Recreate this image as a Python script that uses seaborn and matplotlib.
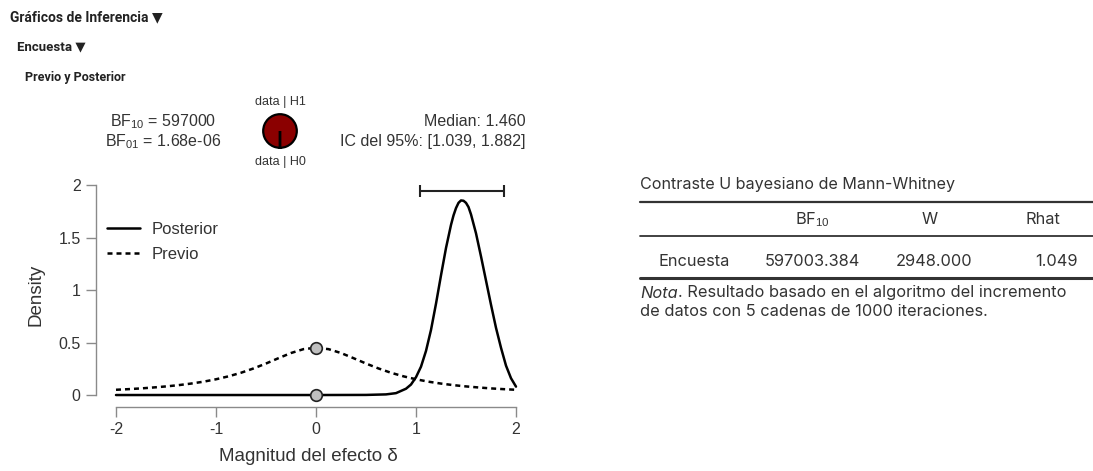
import matplotlib
matplotlib.use("Agg")
import matplotlib.pyplot as plt
import seaborn as sns
import numpy as np
import pandas as pd

# datos
prior_x = [-2, -1.875, -1.75, -1.625, -1.5, -1.375, -1.25, -1.125, -1, -0.875, -0.75, -0.625, -0.5,
           -0.375, -0.25, -0.125, 0, 0.125, 0.25, 0.375, 0.5, 0.625, 0.75, 0.875, 1, 1.125, 1.25,
           1.375, 1.5, 1.625, 1.75, 1.875, 2]
prior_y = [0.050, 0.056, 0.063, 0.072, 0.082, 0.094, 0.109, 0.127, 0.150, 0.178, 0.212, 0.253, 0.300,
           0.351, 0.400, 0.437, 0.450, 0.437, 0.400, 0.351, 0.300, 0.253, 0.212, 0.178, 0.150, 0.127,
           0.109, 0.094, 0.082, 0.072, 0.063, 0.056, 0.050]
post_x = [-2, -1, 0, 0.5, 0.7, 0.8, 0.9, 0.95, 1.0, 1.05, 1.1, 1.15, 1.2, 1.25, 1.3, 1.35, 1.375,
          1.4, 1.425, 1.45, 1.475, 1.5, 1.525, 1.55, 1.6, 1.65, 1.7, 1.75, 1.8, 1.85, 1.9, 1.95, 2.0]
post_y = [0, 0, 0, 0.001, 0.006, 0.018, 0.06, 0.10, 0.17, 0.27, 0.42, 0.62, 0.87, 1.14, 1.40, 1.62,
          1.71, 1.78, 1.83, 1.853, 1.85, 1.83, 1.79, 1.72, 1.54, 1.32, 1.09, 0.86, 0.64, 0.45, 0.28,
          0.16, 0.08]
punto_x = [0, 0]
punto_y = [0.450, 0.0]
ic = [1.039, 1.882]
mediana = 1.460
bf10_txt = "597000"
bf01_txt = "1.68e-06"
bf10 = 597000.0

tabla_cols = ["BF$_{10}$", "W", "Rhat"]
tabla_fila = ["Encuesta", "597003.384", "2948.000", "1.049"]

sns.set_style("ticks")
plt.rcParams['font.family'] = ['Liberation Sans', 'DejaVu Sans']
plt.rcParams['mathtext.fontset'] = 'custom'
plt.rcParams['mathtext.rm'] = 'Liberation Sans'
plt.rcParams['mathtext.it'] = 'Liberation Sans:italic'

W, H = 1093, 471
fig = plt.figure(figsize=(W / 100, H / 100), dpi=100)

def px(x, y):
    return x / W, 1 - y / H

# Grafico principal
ax = fig.add_axes([96 / W, (H - 407) / H, (520 - 96) / W, (407 - 183) / H])
df = pd.DataFrame({"x": prior_x + post_x, "y": prior_y + post_y,
                   "curva": ["Previo"] * len(prior_x) + ["Posterior"] * len(post_x)})
sns.lineplot(data=df, x="x", y="y", style="curva", style_order=["Posterior", "Previo"],
             dashes={"Posterior": "", "Previo": (2, 1.6)}, color="black", linewidth=1.8,
             ax=ax, legend=False, sort=False)
sns.scatterplot(x=punto_x, y=punto_y, ax=ax, s=70, color="#bfbfbf", edgecolor="#222222",
                linewidth=1.2, zorder=5)
ax.errorbar([mediana], [1.946], xerr=[[mediana - ic[0]], [ic[1] - mediana]], fmt="none",
            ecolor="#222222", elinewidth=1.5, capsize=4, capthick=1.5)

ax.set_xlim(-2.2, 2.04)
ax.set_ylim(-0.114, 2.019)
ax.set_xticks([-2, -1, 0, 1, 2])
ax.set_xticklabels(["-2", "-1", "0", "1", "2"])
ax.set_yticks([0, 0.5, 1, 1.5, 2])
ax.set_yticklabels(["0", "0.5", "1", "1.5", "2"])
for s in ["top", "right"]:
    ax.spines[s].set_visible(False)
ax.spines["left"].set_bounds(0, 2)
ax.spines["bottom"].set_bounds(-2, 2)
for s in ["left", "bottom"]:
    ax.spines[s].set_color("#8a8a8a")
    ax.spines[s].set_linewidth(1.0)
ax.tick_params(axis="both", length=7, width=1.0, color="#8a8a8a", labelsize=11.5,
               labelcolor="#333333", pad=4)
ax.set_xlabel("Magnitud del efecto δ", fontsize=13.5, color="#333333", labelpad=8)
ax.set_ylabel("Density", fontsize=13.5, color="#333333", labelpad=10)

# leyenda
ax.plot([], [], color="black", lw=1.8, label="Posterior")
ax.plot([], [], color="black", lw=1.8, ls=(0, (2, 1.6)), label="Previo")
leg = ax.legend(loc="upper left", bbox_to_anchor=(-0.01, 0.895), frameon=False, fontsize=12,
                handlelength=2.0, handletextpad=0.7, labelspacing=0.6, labelcolor="#333333")

# textos sobre el grafico
fig.text(*px(163, 122), "BF$_{10}$ = " + bf10_txt, ha="center", va="center", fontsize=11.5,
         color="#333333")
fig.text(*px(163, 142), "BF$_{01}$ = " + bf01_txt, ha="center", va="center", fontsize=11.5,
         color="#333333")
fig.text(*px(526, 122), "Median: %.3f" % mediana, ha="right", va="center", fontsize=11.5,
         color="#333333")
fig.text(*px(526, 142), "IC del 95%%: [%.3f, %.3f]" % (ic[0], ic[1]), ha="right", va="center",
         fontsize=11.5, color="#333333")
fig.text(*px(280, 102), "data | H1", ha="center", va="center", fontsize=9, color="#333333")
fig.text(*px(280, 162), "data | H0", ha="center", va="center", fontsize=9, color="#333333")

ax_pie = fig.add_axes([259 / W, (H - 152) / H, 42 / W, 42 / H])
ax_pie.pie([1.0, 1.0 / bf10], colors=["#8b0000", "white"], startangle=-90, counterclock=False,
           wedgeprops={"edgecolor": "black", "linewidth": 1.6})
ax_pie.set_aspect("equal")

# encabezados
hf = ["Roboto", "DejaVu Sans"]
fig.text(*px(10, 17), "Gráficos de Inferencia ▼", ha="left", va="center", fontsize=10,
         fontweight="bold", color="#222222", family=hf)
fig.text(*px(17, 47), "Encuesta ▼", ha="left", va="center", fontsize=9.5,
         fontweight="bold", color="#222222", family=hf)
fig.text(*px(25, 78), "Previo y Posterior", ha="left", va="center", fontsize=9,
         fontweight="bold", color="#222222", family=hf)

# tabla
tf = ["Inter", "DejaVu Sans"]
fs = 11.8
fig.text(*px(640, 185), "Contraste U bayesiano de Mann-Whitney", ha="left", va="center",
         fontsize=11.6, color="#333333", family=tf)
for yy, lw in [(202, 1.6), (236, 1.3), (278, 2.2)]:
    fig.add_artist(plt.Line2D([640 / W, 1093 / W], [1 - yy / H, 1 - yy / H], color="#333333",
                              lw=lw))
cx = [812, 930, 1043]
for c, t in zip(cx, tabla_cols):
    fig.text(*px(c, 220), t, ha="center", va="center", fontsize=fs, color="#333333", family=tf)
fig.text(*px(658, 262), tabla_fila[0], ha="left", va="center", fontsize=fs, color="#333333",
         family=tf)
for r, t in zip([860, 972, 1078], tabla_fila[1:]):
    fig.text(*px(r, 262), t, ha="right", va="center", fontsize=fs, color="#333333", family=tf)
t_nota = fig.text(*px(640, 293), "Nota", ha="left", va="center", fontsize=fs, color="#333333",
                  family=tf, style="italic")
ax.annotate(". Resultado basado en el algoritmo del incremento", xy=(1, 0), xycoords=t_nota,
            ha="left", va="bottom", fontsize=fs, color="#333333", family=tf,
            annotation_clip=False)
fig.text(*px(640, 312), "de datos con 5 cadenas de 1000 iteraciones.", ha="left", va="center",
         fontsize=fs, color="#333333", family=tf)

fig.savefig("out.png", dpi=100)
